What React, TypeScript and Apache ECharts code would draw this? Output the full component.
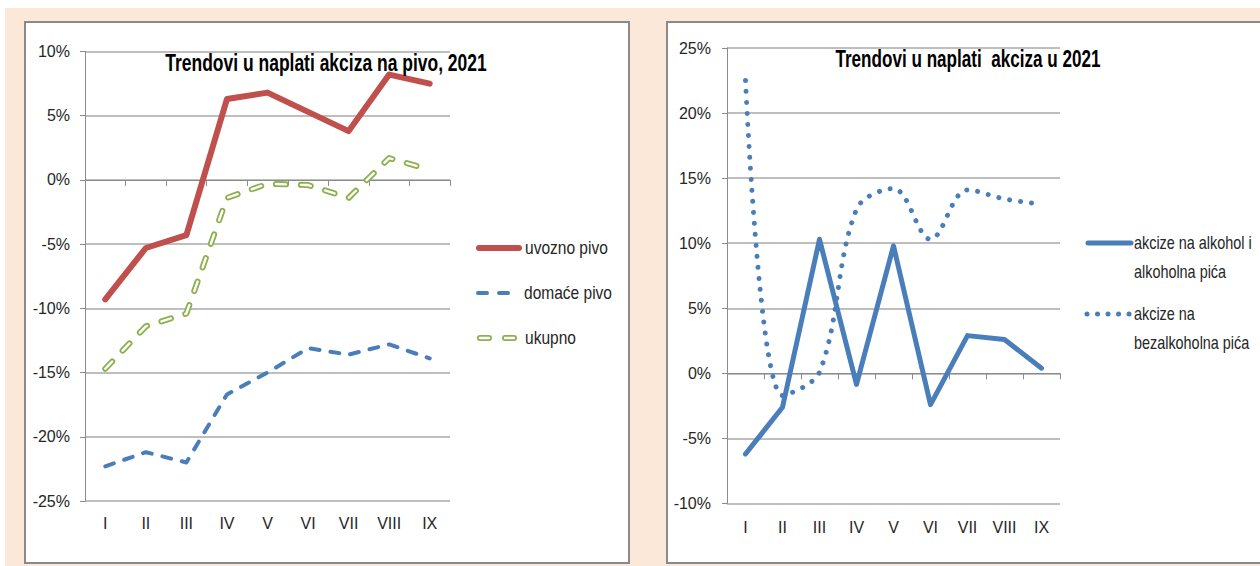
import React, { useEffect, useRef } from "react";
import * as echarts from "echarts";

const months = ["I", "II", "III", "IV", "V", "VI", "VII", "VIII", "IX"];

// Left chart: Trendovi u naplati akciza na pivo, 2021 (%)
const uvoznoPivo = [-9.3, -5.3, -4.3, 6.3, 6.8, 5.3, 3.8, 8.2, 7.5];
const domacePivo = [-22.3, -21.2, -22.0, -16.7, -15.0, -13.1, -13.6, -12.8, -13.9];
const ukupno = [-14.7, -11.4, -10.4, -1.4, -0.3, -0.4, -1.4, 1.7, 0.8];

// Right chart: Trendovi u naplati akciza u 2021 (%)
const alkohol = [-6.2, -2.6, 10.3, -0.85, 9.8, -2.4, 2.9, 2.6, 0.4];
const bezalkoholna = [22.5, -1.7, 0.1, 12.6, 14.2, 10.3, 14.1, 13.4, 13.0];

const leftTicks = { min: -25, max: 10, interval: 5 };
const rightTicks = { min: -10, max: 25, interval: 5 };

const FONT = "'Liberation Sans Narrow', 'Liberation Sans', 'DejaVu Sans Condensed', sans-serif";
const RED = "#C0504D";
const BLUE = "#4A7EBB";
const GREEN = "#8DB04E";
const GRID_C = "#a8a8a8";
const AXIS_C = "#8c8c8c";
const TXT = "#262626";

export default function App() {
  const ref = useRef<HTMLDivElement>(null);

  useEffect(() => {
    if (!ref.current) return;
    const chart = echarts.init(ref.current, null, { renderer: "svg" });

    const labelAxis = (gridIndex: number, margin: number) => ({
      type: "category",
      gridIndex,
      data: months,
      position: "bottom",
      axisLine: { show: false, onZero: false },
      axisTick: { show: false },
      axisLabel: { color: TXT, fontSize: 16, fontFamily: FONT, margin },
      splitLine: { show: false },
    });
    const zeroAxis = (gridIndex: number) => ({
      type: "category",
      gridIndex,
      data: months,
      position: "bottom",
      axisLine: { show: true, onZero: true, lineStyle: { color: AXIS_C, width: 1 } },
      axisTick: { show: true, length: 6, lineStyle: { color: AXIS_C } },
      axisLabel: { show: false },
      splitLine: { show: false },
    });
    const valAxis = (gridIndex: number, t: any, margin: number) => ({
      type: "value",
      gridIndex,
      min: t.min,
      max: t.max,
      interval: t.interval,
      axisLine: { show: true, lineStyle: { color: AXIS_C, width: 1 } },
      axisTick: { show: true, length: 5, lineStyle: { color: AXIS_C } },
      axisLabel: { color: TXT, fontSize: 16, fontFamily: FONT, margin, formatter: "{value}%" },
      splitLine: { show: true, lineStyle: { color: GRID_C, width: 1.5 } },
    });

    const legendText = (text: string, x: number, y: number, sx: number) => ({
      type: "text", x, y, scaleX: sx, scaleY: 1.15,
      style: { text, fill: TXT, font: "16px " + FONT, textVerticalAlign: "middle" },
    });

    const option: any = {
      animation: false,
      backgroundColor: "#ffffff",
      grid: [
        { left: 85, top: 51.5, width: 365, height: 449.5 },
        { left: 727, top: 48, width: 333, height: 455.5 },
      ],
      xAxis: [labelAxis(0, 14), zeroAxis(0), labelAxis(1, 16), zeroAxis(1)],
      yAxis: [valAxis(0, leftTicks, 15), valAxis(1, rightTicks, 16)],
      graphic: [
        { type: "rect", z: -10, silent: true, shape: { x: 5, y: 8, width: 1260, height: 570 }, style: { fill: "#fbe8d9" } },
        { type: "rect", z: -9, silent: true, shape: { x: 25, y: 22, width: 604, height: 541 }, style: { fill: "#ffffff", stroke: "#8a8a8a", lineWidth: 2 } },
        { type: "rect", z: -9, silent: true, shape: { x: 667, y: 22, width: 620, height: 541 }, style: { fill: "#ffffff", stroke: "#8a8a8a", lineWidth: 2 } },
        {
          type: "text", x: 326, y: 62, scaleX: 0.92, scaleY: 1.25, z: 10,
          style: { text: "Trendovi u naplati akciza na pivo, 2021", fill: "#000", font: "bold 19px " + FONT, textAlign: "center", textVerticalAlign: "middle" },
        },
        {
          type: "text", x: 968, y: 58, scaleX: 0.9, scaleY: 1.25, z: 10,
          style: { text: "Trendovi u naplati  akciza u 2021", fill: "#000", font: "bold 19px " + FONT, textAlign: "center", textVerticalAlign: "middle" },
        },
        // left legend
        { type: "line", shape: { x1: 479, y1: 248, x2: 519, y2: 248 }, style: { stroke: RED, lineWidth: 6, lineCap: "round" } },
        legendText("uvozno pivo", 525, 248, 0.97),
        { type: "line", shape: { x1: 478, y1: 293, x2: 511, y2: 293 }, style: { stroke: BLUE, lineWidth: 4, lineCap: "round", lineDash: [9, 12] } },
        legendText("domaće pivo", 524, 293, 0.97),
        { type: "line", shape: { x1: 480, y1: 338, x2: 520, y2: 338 }, style: { stroke: GREEN, lineWidth: 6, lineCap: "round", lineDash: [9, 16] } },
        { type: "line", shape: { x1: 480, y1: 338, x2: 520, y2: 338 }, style: { stroke: "#ffffff", lineWidth: 2.4, lineCap: "round", lineDash: [9, 16] } },
        legendText("ukupno", 525, 338, 0.97),
        // right legend
        { type: "line", shape: { x1: 1088, y1: 243, x2: 1131, y2: 243 }, style: { stroke: BLUE, lineWidth: 5, lineCap: "round" } },
        legendText("akcize na alkohol i", 1134, 243, 0.9),
        legendText("alkoholna pića", 1134, 272, 0.9),
        { type: "line", shape: { x1: 1087, y1: 314, x2: 1130, y2: 314 }, style: { stroke: BLUE, lineWidth: 5, lineCap: "round", lineDash: [0.01, 10.5] } },
        legendText("akcize na", 1134, 314, 0.9),
        legendText("bezalkoholna pića", 1134, 343, 0.9),
      ],
      series: [
        {
          name: "ukupno", type: "line", xAxisIndex: 0, yAxisIndex: 0, data: ukupno, symbol: "none", z: 3,
          lineStyle: { color: GREEN, width: 6, type: [10, 15], cap: "round", join: "round" },
        },
        {
          name: "ukupno_inner", type: "line", xAxisIndex: 0, yAxisIndex: 0, data: ukupno, symbol: "none", z: 4,
          lineStyle: { color: "#ffffff", width: 2.4, type: [10, 15], cap: "round", join: "round" },
        },
        {
          name: "domaće pivo", type: "line", xAxisIndex: 0, yAxisIndex: 0, data: domacePivo, symbol: "none", z: 3,
          lineStyle: { color: BLUE, width: 4, type: [9, 11], cap: "round", join: "round" },
        },
        {
          name: "uvozno pivo", type: "line", xAxisIndex: 0, yAxisIndex: 0, data: uvoznoPivo, symbol: "none", z: 5,
          lineStyle: { color: RED, width: 6, cap: "round", join: "round" },
        },
        {
          name: "akcize na bezalkoholna pića", type: "line", xAxisIndex: 2, yAxisIndex: 1, data: bezalkoholna, symbol: "none", smooth: 0.35, z: 3,
          lineStyle: { color: BLUE, width: 5, type: [0.01, 11], cap: "round" },
        },
        {
          name: "akcize na alkohol i alkoholna pića", type: "line", xAxisIndex: 2, yAxisIndex: 1, data: alkohol, symbol: "none", z: 4,
          lineStyle: { color: BLUE, width: 5, cap: "round", join: "round" },
        },
      ],
    };

    chart.setOption(option);
    return () => chart.dispose();
  }, []);

  return (
    <div
      ref={ref}
      style={{ position: "fixed", left: 0, top: 0, width: 1260, height: 566 }}
    />
  );
}
